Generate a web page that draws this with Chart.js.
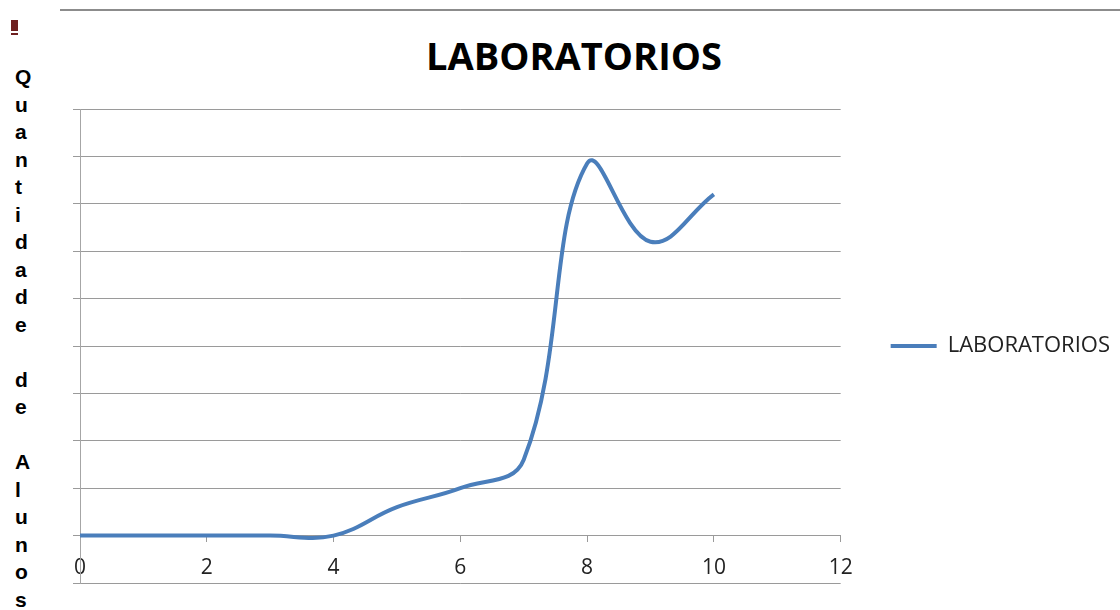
<!DOCTYPE html>
<html>
<head>
<meta charset="utf-8">
<script src="https://cdn.jsdelivr.net/npm/chart.js@4.4.1/dist/chart.umd.min.js"></script>
<style>
  body { margin: 0; background: #fff; width: 1120px; height: 610px; overflow: hidden; position: relative; }
  #profitWrap { position: absolute; left: 0; top: 0; }
  .topRule { position: absolute; left: 60px; top: 9px; width: 1060px; height: 2px; background: #8c8c8c; }
  .mark { position: absolute; left: 11px; top: 20px; width: 7px; height: 11px; background: #6e1f1f; }
  .markLine { position: absolute; left: 11px; top: 33px; width: 7px; height: 2px; background: #6e1f1f; }
  .chartTitle { position: absolute; left: 374px; width: 400px; top: 29px; text-align: center;
    font: bold 38px "Open Sans", sans-serif; color: #000; line-height: 52px; }
  .axisTitle { position: absolute; left: 15px; top: 63px; width: 26px;
    font: bold 21px "Liberation Sans", Arial, sans-serif; line-height: 27.5px; color: #000; }
</style>
</head>
<body>
<div class="topRule"></div>
<div class="mark"></div>
<div class="markLine"></div>
<div class="chartTitle">LABORATORIOS</div>
<div class="axisTitle" id="axisTitle"></div>
<div id="profitWrap"><canvas id="labChart" width="1120" height="610"></canvas></div>
<script>
// data
const seriesName = "LABORATORIOS";
const yAxisTitle = "Quantidade de Alunos";
const xValues = [0, 1, 2, 3, 4, 5, 6, 7, 8, 9, 10];
const yValues = [0, 0, 0, 0, 0, 0.6, 1.0, 1.6, 7.85, 6.2, 7.2];
const xTicks = [0, 2, 4, 6, 8, 10, 12];

// stacked letters for the y axis title
document.getElementById("axisTitle").innerHTML =
    yAxisTitle.split("").map(c => c === " " ? "&nbsp;" : c).join("<br>");

document.addEventListener("DOMContentLoaded", function () {
    const ctx = document.getElementById("labChart");
    if (!ctx) return;
    new Chart(ctx, {
        type: "line",
        data: {
            datasets: [{
                label: seriesName,
                data: xValues.map((x, i) => ({ x: x, y: yValues[i] })),
                borderColor: "#4a7ebb",
                backgroundColor: "#4a7ebb",
                borderWidth: 4,
                pointRadius: 0,
                tension: 0.4,
                fill: false
            }]
        },
        options: {
            responsive: false,
            animation: false,
            layout: { padding: { left: 0, top: 109, bottom: 27, right: 0 } },
            scales: {
                x: {
                    type: "linear",
                    position: { y: 0 },
                    min: 0,
                    max: 12,
                    afterBuildTicks: axis => { axis.ticks = xTicks.map(v => ({ value: v })); },
                    grid: { drawOnChartArea: false, tickLength: 6, color: "#9a9a9a" },
                    border: { color: "#9a9a9a" },
                    ticks: { font: { family: "Open Sans", size: 21 }, color: "#222", padding: 14, maxRotation: 0 }
                },
                y: {
                    min: -1,
                    max: 9,
                    // leave room on the left for the stacked axis title
                    afterFit: axis => { axis.width = 80; },
                    ticks: { stepSize: 1, display: false },
                    grid: { color: "#9a9a9a", tickLength: 7 },
                    border: { color: "#a6a6a6" }
                }
            },
            plugins: {
                legend: {
                    position: "right",
                    labels: {
                        usePointStyle: true,
                        pointStyle: "line",
                        pointStyleWidth: 46,
                        padding: 50,
                        color: "#222",
                        font: { family: "Open Sans", size: 22 }
                    }
                },
                tooltip: { enabled: false }
            }
        }
    });
});
</script>
</body>
</html>
